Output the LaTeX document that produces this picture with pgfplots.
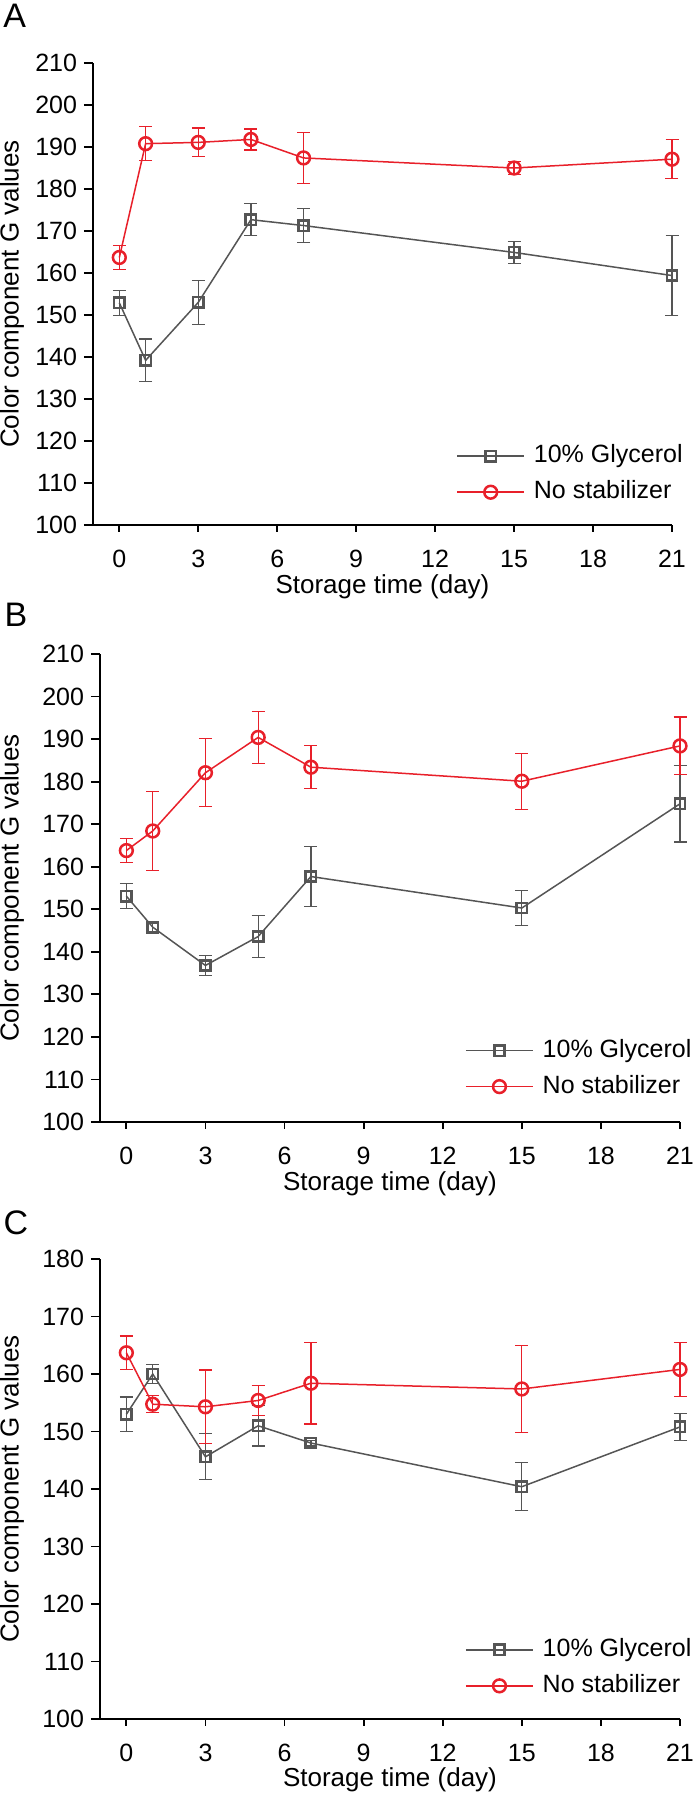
\documentclass[border=0pt]{standalone}
\usepackage{fontspec}
\setmainfont{Liberation Sans}
\usepackage{pgfplots}
\pgfplotsset{compat=1.18}
\usepackage{pgfplotstable}
\definecolor{dgray}{RGB}{85,85,85}
\definecolor{myred}{RGB}{232,32,42}

\pgfplotstableread{
x y e
0 152.9 3.0
1 139.2 5.1
3 153.0 5.3
5 172.7 3.8
7 171.3 4.1
15 164.9 2.6
21 159.4 9.5
}\Ag
\pgfplotstableread{
x y e
0 163.7 2.85
1 190.8 4.0
3 191.1 3.45
5 191.8 2.5
7 187.4 6.1
15 185.0 1.6
21 187.1 4.6
}\Ar
\pgfplotstableread{
x y e
0 153.1 3.0
1 145.8 1.0
3 136.8 2.4
5 143.6 5.0
7 157.7 7.0
15 150.3 4.2
21 174.8 9.0
}\Bg
\pgfplotstableread{
x y e
0 163.8 2.8
1 168.4 9.2
3 182.1 8.0
5 190.4 6.05
7 183.4 5.1
15 180.1 6.6
21 188.4 6.8
}\Br
\pgfplotstableread{
x y e
0 153.0 3.0
1 160.0 1.7
3 145.6 4.0
5 151.0 3.5
7 148.0 0.5
15 140.4 4.2
21 150.8 2.3
}\Cg
\pgfplotstableread{
x y e
0 163.7 2.9
1 154.75 1.5
3 154.3 6.4
5 155.4 2.6
7 158.4 7.1
15 157.4 7.6
21 160.8 4.75
}\Cr

\pgfplotsset{
  panel/.style={
    scale only axis,
    axis lines=left,
    axis line style={-, line width=0.9pt, black},
    xmin=-1, xmax=21, ymin=100,
    xtick={0,3,...,21},
    tick align=outside,
    xtick style={line width=0.9pt, black, /pgfplots/major tick length=3.25pt},
    ytick style={line width=0.9pt, black, /pgfplots/major tick length=4.5pt},
    tick label style={font=\fontsize{12.5}{15}\selectfont, /pgf/number format/assume math mode=true},
    yticklabel style={anchor=east, inner sep=0pt, xshift=-3.5pt},
    xticklabel style={anchor=north, inner sep=0pt, yshift=-8pt},
    label style={font=\fontsize{13}{15.6}\selectfont},
    xlabel={Storage time (day)},
    ylabel={Color component G values},
    legend style={draw=none, fill=none, anchor=south west, inner sep=0pt,
      font=\fontsize{12.5}{15}\selectfont,
      nodes={inner sep=0pt, text height=9pt, text depth=2.6pt},
      row sep=6.4pt},
    legend cell align=left,
    legend image code/.code={
      \draw[mark repeat=2,mark phase=2,##1] plot coordinates {(0pt,0pt) (16.75pt,0pt) (33.5pt,0pt)};
      \path (38pt,0pt);
    },
    clip=false,
  },
  gser/.style={dgray, line width=0.75pt, mark=square, mark size=2.6pt,
    mark options={line width=1.25pt, solid},
    error bars/.cd, y dir=both, y explicit,
    error bar style={line width=0.6pt, dgray},
    error mark options={rotate=90, mark size=3.25pt, line width=0.6pt, dgray}},
  rser/.style={myred, line width=0.75pt, mark=o, mark size=3.2pt,
    mark options={line width=1.25pt, solid},
    error bars/.cd, y dir=both, y explicit,
    error bar style={line width=0.6pt, myred},
    error mark options={rotate=90, mark size=3.25pt, line width=0.6pt, myred}},
}

\begin{document}
\begin{tikzpicture}
\path[use as bounding box] (0,0) rectangle (349pt,-898pt);

\node[font=\fontsize{17}{20}\selectfont, anchor=center] at (7.4pt,-7.75pt) {A};
\node[font=\fontsize{17}{20}\selectfont, anchor=center] at (8pt,-307.25pt) {B};
\node[font=\fontsize{17}{20}\selectfont, anchor=center] at (8pt,-611.5pt) {C};

% Panel A
\begin{axis}[panel, at={(46.5pt,-262.5pt)}, anchor=south west,
  width=289.5pt, height=231pt, ymax=210, ytick={100,110,...,210},
  xlabel style={at={(axis description cs:0.5,-0.134)}, anchor=center},
  ylabel style={at={(axis description cs:-0.14,0.5)}, anchor=center},
  legend style={at={(axis description cs:0.627,0.045)}}]
\addplot[gser] table[x=x, y=y, y error=e] {\Ag};
\addlegendentry{10\% Glycerol}
\addplot[rser] table[x=x, y=y, y error=e] {\Ar};
\addlegendentry{No stabilizer}
\end{axis}

% Panel B
\begin{axis}[panel, at={(50pt,-561pt)}, anchor=south west,
  width=290pt, height=234pt, ymax=210, ytick={100,110,...,210},
  xlabel style={at={(axis description cs:0.5,-0.1325)}, anchor=center},
  ylabel style={at={(axis description cs:-0.1517,0.5)}, anchor=center},
  legend style={at={(axis description cs:0.629,0.05)}}]
\addplot[gser] table[x=x, y=y, y error=e] {\Bg};
\addlegendentry{10\% Glycerol}
\addplot[rser] table[x=x, y=y, y error=e] {\Br};
\addlegendentry{No stabilizer}
\end{axis}

% Panel C
\begin{axis}[panel, at={(50pt,-859.5pt)}, anchor=south west,
  width=290pt, height=230pt, ymax=180, ytick={100,110,...,180},
  xlabel style={at={(axis description cs:0.5,-0.1326)}, anchor=center},
  ylabel style={at={(axis description cs:-0.1517,0.5)}, anchor=center},
  legend style={at={(axis description cs:0.629,0.046)}}]
\addplot[gser] table[x=x, y=y, y error=e] {\Cg};
\addlegendentry{10\% Glycerol}
\addplot[rser] table[x=x, y=y, y error=e] {\Cr};
\addlegendentry{No stabilizer}
\end{axis}
\end{tikzpicture}
\end{document}
